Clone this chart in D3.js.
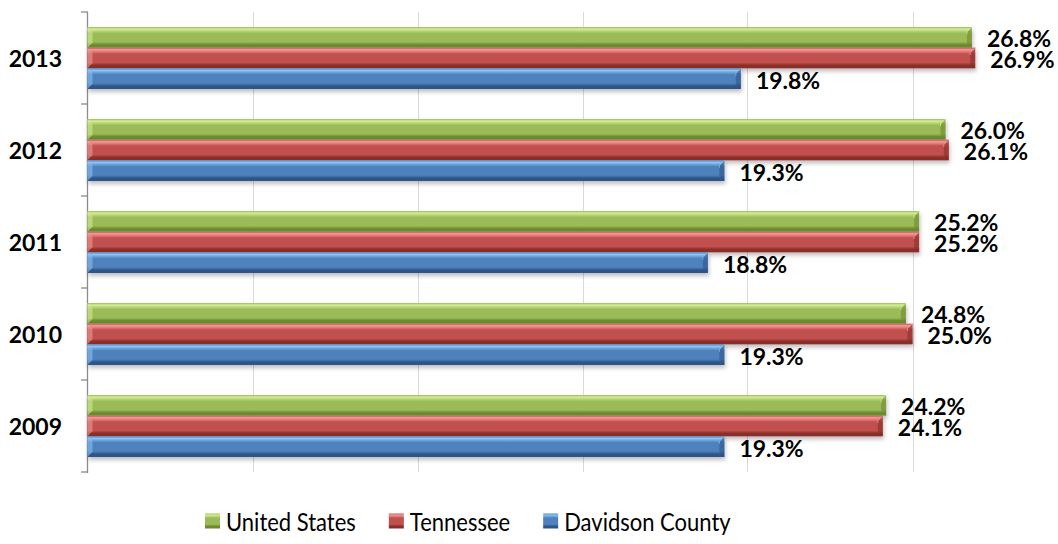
<!DOCTYPE html>
<html>
<head>
<meta charset="utf-8">
<script src="https://cdn.jsdelivr.net/npm/d3@7"></script>
<style>
  body { margin: 0; background: #fff; }
  svg { display: block; }
</style>
</head>
<body>
<section></section>
<script>

// data
const years = ['2013', '2012', '2011', '2010', '2009'];
const seriesNames = ['United States', 'Tennessee', 'Davidson County'];
const unitedStates = [26.8, 26.0, 25.2, 24.8, 24.2];
const tennessee = [26.9, 26.1, 25.2, 25.0, 24.1];
const davidson = [19.8, 19.3, 18.8, 19.3, 19.3];
const xTicks = [5, 10, 15, 20, 25, 30];

const w = 1058;
const h = 544;

// colours per series: light, base, dark
const colors = [
    { light: '#d6ee96', mid: '#9bbb59', dark: '#6b8a2e', key: 'us' },
    { light: '#f49c9a', mid: '#c0504d', dark: '#8a2d2a', key: 'tn' },
    { light: '#8cc4f4', mid: '#4f81bd', dark: '#2d5588', key: 'dc' }
];

const values = [unitedStates, tennessee, davidson];

const svg = d3.select('section').append('svg').attr('width', w).attr('height', h);

const defs = svg.append('defs');

colors.forEach(c => {
    const g = defs.append('linearGradient').attr('id', 'grad-' + c.key)
        .attr('x1', 0).attr('y1', 0).attr('x2', 0).attr('y2', 1);
    g.append('stop').attr('offset', '0%').attr('stop-color', c.mid);
    g.append('stop').attr('offset', '10%').attr('stop-color', c.light);
    g.append('stop').attr('offset', '30%').attr('stop-color', c.mid);
    g.append('stop').attr('offset', '72%').attr('stop-color', c.mid);
    g.append('stop').attr('offset', '86%').attr('stop-color', c.dark);
    g.append('stop').attr('offset', '100%').attr('stop-color', c.dark);
});

const shadow = defs.append('filter').attr('id', 'shadow')
    .attr('x', '-5%').attr('y', '-20%').attr('width', '110%').attr('height', '160%');
shadow.append('feDropShadow').attr('dx', 1).attr('dy', 3).attr('stdDeviation', 2)
    .attr('flood-color', '#000').attr('flood-opacity', 0.25);

// scales
const xScale = d3.scaleLinear().domain([0, 30]).range([87.5, 1077.5]);

const yScale = d3.scaleBand().domain(years).range([12, 472])
    .paddingInner(0.326).paddingOuter(0.163);

const inner = d3.scaleBand().domain(d3.range(seriesNames.length)).range([0, yScale.bandwidth()]);

// gridlines
svg.append('g').attr('class', 'grid').selectAll('line').data(xTicks).enter().append('line')
    .attr('x1', d => Math.round(xScale(d)) + 0.5).attr('x2', d => Math.round(xScale(d)) + 0.5)
    .attr('y1', 12).attr('y2', 472)
    .attr('stroke', '#d9d9d9').attr('stroke-width', 1);

// y axis with ticks between categories
const yAxis = svg.append('g').attr('class', 'y-axis');
yAxis.append('line').attr('x1', 87.5).attr('x2', 87.5).attr('y1', 12).attr('y2', 473)
    .attr('stroke', '#8c8c8c').attr('stroke-width', 1.3);

const step = yScale.step();
const boundaries = years.map((d, i) => 12 + i * step).concat([12 + years.length * step]);
yAxis.selectAll('line.tick').data(boundaries).enter().append('line').attr('class', 'tick')
    .attr('x1', 81).attr('x2', 88).attr('y1', d => d).attr('y2', d => d)
    .attr('stroke', '#8c8c8c').attr('stroke-width', 1.3);

yAxis.selectAll('text').data(years).enter().append('text')
    .attr('x', 62).attr('y', d => yScale(d) + yScale.bandwidth() / 2)
    .attr('text-anchor', 'end').attr('dominant-baseline', 'central')
    .style('font', 'bold 23px Lato, sans-serif').style('fill', '#000')
    .text(d => d);

// bars
const groups = svg.append('g').attr('class', 'bars').selectAll('g').data(years).enter().append('g')
    .attr('transform', d => `translate(0,${yScale(d)})`);

groups.each(function (year, yi) {
    const grp = d3.select(this);
    const bh = inner.bandwidth();
    const sh = grp.append('g').attr('filter', 'url(#shadow)');
    values.forEach((vals, si) => {
        const x0 = xScale(0);
        const x1 = xScale(vals[yi]);
        const y0 = inner(si);
        sh.append('rect').attr('x', x0).attr('y', y0).attr('width', x1 - x0).attr('height', bh)
            .attr('fill', `url(#grad-${colors[si].key})`);
        // left bevel
        sh.append('path')
            .attr('d', `M${x0},${y0} L${x0 + 5},${y0 + 5} L${x0 + 5},${y0 + bh - 5} L${x0},${y0 + bh} Z`)
            .attr('fill', colors[si].light).attr('opacity', 0.55);
        // right bevel
        sh.append('path')
            .attr('d', `M${x1},${y0} L${x1 - 5},${y0 + 5} L${x1 - 5},${y0 + bh - 5} L${x1},${y0 + bh} Z`)
            .attr('fill', colors[si].dark).attr('opacity', 0.6);
        sh.append('path')
            .attr('d', `M${x1},${y0} L${x1 - 5},${y0 + 5} L${x1 - 5},${y0 + bh * 0.35}`)
            .attr('fill', 'none').attr('stroke', colors[si].light).attr('stroke-width', 1).attr('opacity', 0.8);
    });

    values.forEach((vals, si) => {
        const tx = xScale(vals[yi]) + 15;
        const ty = inner(si) + bh / 2 + 1;
        grp.append('text')
            .attr('x', tx).attr('y', ty)
            .attr('dominant-baseline', 'central')
            .style('font', 'bold 23px Lato, sans-serif').style('fill', '#000')
            .text(vals[yi].toFixed(1) + '%');
    });
});

// legend
const legend = svg.append('g').attr('id', 'legend');
const legendY = 521;
let lx = 205;
seriesNames.forEach((name, i) => {
    const item = legend.append('g');
    item.append('rect').attr('x', lx).attr('y', legendY - 7.5).attr('width', 15).attr('height', 15)
        .attr('fill', `url(#grad-${colors[i].key})`);
    const t = item.append('text')
        .attr('transform', `translate(${lx + 21},${legendY}) scale(1,1.14)`)
        .attr('dominant-baseline', 'central')
        .style('font', '22px Lato, sans-serif').style('fill', '#000')
        .text(name);
    lx += 21 + t.node().getComputedTextLength() + 33;
});

</script>
</body>
</html>
